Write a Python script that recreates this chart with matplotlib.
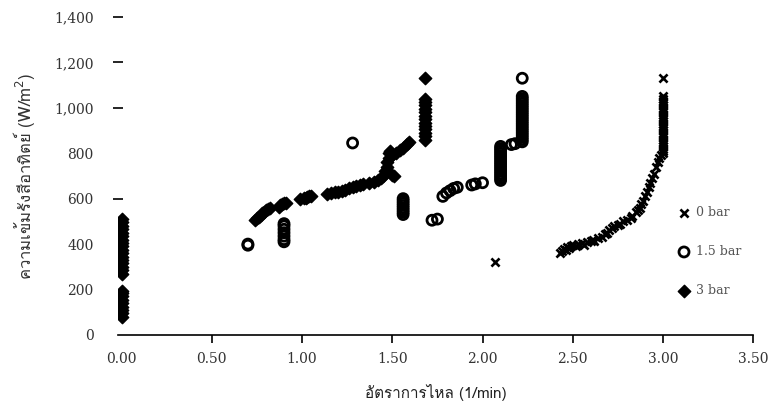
import numpy as np
import matplotlib.pyplot as plt
from matplotlib import font_manager
from matplotlib.ft2font import FT2Font
from matplotlib.ticker import FuncFormatter


def thai_font():
    # find an installed font that has Thai glyphs
    for f in font_manager.fontManager.ttflist:
        try:
            if 0x0E01 in FT2Font(f.fname).get_charmap():
                return f.name
        except Exception:
            pass
    return 'DejaVu Sans'


# 0 bar (x markers)
bar0_x = [2.07,
          2.43, 2.44, 2.45, 2.46, 2.47, 2.48, 2.49, 2.50, 2.52, 2.53, 2.55, 2.56, 2.58, 2.60,
          2.61, 2.62, 2.64, 2.66, 2.68, 2.69, 2.70, 2.72, 2.73, 2.75, 2.76, 2.78, 2.80, 2.82,
          2.83, 2.85, 2.86, 2.87, 2.88, 2.89, 2.90, 2.91, 2.92, 2.93, 2.94, 2.95, 2.96, 2.97,
          2.98, 2.99,
          3.00, 3.00, 3.00, 3.00, 3.00, 3.00, 3.00, 3.00, 3.00, 3.00, 3.00, 3.00, 3.00, 3.00,
          3.00, 3.00, 3.00, 3.00, 3.00, 3.00, 3.00, 3.00, 3.00, 3.00, 3.00, 3.00, 3.00]
bar0_y = [320,
          360, 370, 378, 375, 385, 382, 390, 395, 392, 400, 405, 398, 410, 415,
          420, 412, 425, 430, 445, 450, 460, 470, 478, 485, 490, 500, 508, 515,
          525, 540, 550, 560, 575, 590, 610, 630, 650, 670, 690, 710, 740, 760,
          780, 790,
          800, 810, 820, 830, 840, 850, 860, 870, 880, 890, 900, 910, 920, 930,
          940, 950, 960, 970, 980, 990, 1000, 1010, 1020, 1030, 1040, 1050, 1130]

# 1.5 bar (open circles)
bar15_x = [0.70, 0.70,
           0.90, 0.90, 0.90, 0.90, 0.90, 0.90, 0.90,
           1.28,
           1.56, 1.56, 1.56, 1.56, 1.56, 1.56, 1.56, 1.56,
           1.72, 1.75,
           1.78, 1.80, 1.82, 1.84, 1.86, 1.94, 1.96, 2.00,
           2.10, 2.10, 2.10, 2.10, 2.10, 2.10, 2.10, 2.10, 2.10, 2.10, 2.10, 2.10, 2.10, 2.10,
           2.10, 2.10,
           2.16, 2.18,
           2.22, 2.22, 2.22, 2.22, 2.22, 2.22, 2.22, 2.22, 2.22, 2.22, 2.22, 2.22, 2.22, 2.22,
           2.22, 2.22, 2.22, 2.22, 2.22, 2.22, 2.22, 2.22]
bar15_y = [395, 400,
           410, 420, 435, 450, 465, 480, 490,
           845,
           530, 540, 550, 560, 570, 580, 590, 600,
           505, 510,
           610, 625, 635, 645, 650, 660, 665, 670,
           680, 690, 700, 710, 720, 730, 740, 750, 760, 770, 780, 790, 800, 810,
           820, 830,
           838, 842,
           850, 860, 870, 880, 890, 900, 910, 920, 930, 940, 950, 960, 970, 980,
           990, 1000, 1010, 1020, 1030, 1040, 1050, 1130]

# 3 bar (filled diamonds)
bar3_x = [0.00] * 26 + [
          0.74, 0.75, 0.76, 0.77, 0.78, 0.79, 0.80, 0.81, 0.82,
          0.87, 0.88, 0.89, 0.90, 0.91,
          0.99, 1.01, 1.02, 1.03, 1.04, 1.05,
          1.14, 1.16, 1.18, 1.20, 1.22, 1.24, 1.26, 1.28, 1.30, 1.32, 1.34, 1.37, 1.40, 1.42,
          1.44, 1.45, 1.46, 1.47, 1.47, 1.48, 1.48, 1.49, 1.50, 1.51, 1.50, 1.52, 1.54, 1.56,
          1.58, 1.59,
          1.68, 1.68, 1.68, 1.68, 1.68, 1.68, 1.68, 1.68, 1.68, 1.68, 1.68, 1.68, 1.68, 1.68]
bar3_y = [80, 95, 110, 125, 140, 155, 170, 185, 195, 270, 285, 300, 315, 330, 345, 360,
          375, 390, 405, 420, 435, 450, 465, 480, 495, 510,
          505, 515, 520, 530, 535, 540, 548, 555, 560,
          565, 572, 578, 582, 580,
          598, 602, 605, 608, 610, 612,
          622, 626, 630, 628, 635, 640, 645, 650, 655, 660, 665, 668, 675, 680,
          690, 700, 720, 740, 760, 780, 800, 810, 705, 700, 790, 800, 815, 825,
          840, 848,
          860, 875, 890, 905, 920, 935, 950, 965, 980, 995, 1010, 1025, 1040, 1130]

x_ticks = [0.0, 0.5, 1.0, 1.5, 2.0, 2.5, 3.0, 3.5]
y_ticks = [0, 200, 400, 600, 800, 1000, 1200, 1400]

thai = thai_font()
serif = ['DejaVu Serif']

fig = plt.figure(figsize=(7.71, 4.12), dpi=100)
ax = fig.add_axes([0.153, 0.187, 0.824, 0.772])

ax.scatter(bar0_x, bar0_y, marker='x', s=34, color='black', linewidths=1.9, label='0 bar')
ax.scatter(bar15_x, bar15_y, marker='o', s=52, facecolors='none', edgecolors='black',
           linewidths=2.0, label='1.5 bar')
ax.scatter(bar3_x, bar3_y, marker='D', s=40, color='black', label='3 bar')

ax.set_xlim(-0.02, 3.5)
ax.set_ylim(0, 1400)
ax.set_xticks(x_ticks)
ax.set_yticks(y_ticks)
ax.xaxis.set_major_formatter(FuncFormatter(lambda v, p: '%.2f' % v))
ax.yaxis.set_major_formatter(FuncFormatter(lambda v, p: '{:,.0f}'.format(v)))

for s in ['top', 'right', 'left']:
    ax.spines[s].set_visible(False)
ax.spines['bottom'].set_linewidth(1.2)

ax.tick_params(axis='x', direction='out', length=6, width=1.2, pad=6, labelsize=10,
               labelcolor='#333333')
ax.tick_params(axis='y', direction='inout', length=7, width=1.2, pad=14, labelsize=10,
               labelcolor='#333333')
ax.xaxis.get_major_ticks()[0].tick1line.set_visible(False)
for i in [0, 1, 2, 4]:
    ax.yaxis.get_major_ticks()[i].tick1line.set_visible(False)
for lbl in ax.get_xticklabels() + ax.get_yticklabels():
    lbl.set_family(serif)

ax.set_xlabel('อัตราการไหล (1/min)', family=[thai, 'DejaVu Sans'], fontsize=11,
              color='#222222', labelpad=13)
ax.set_ylabel('ความเข้มรังสีอาทิตย์ (W/m$^2$)', family=[thai, 'DejaVu Sans'], fontsize=12,
              color='#333333', labelpad=12)

leg = ax.legend(loc='upper left', bbox_to_anchor=(679 / 771, 1 - 206 / 412),
                bbox_transform=fig.transFigure, frameon=False, handlelength=0.8,
                handletextpad=0.6, labelspacing=2.1, borderpad=0, borderaxespad=0,
                prop={'family': serif, 'size': 9})
for t in leg.get_texts():
    t.set_color('#555555')

fig.savefig('out.png', dpi=100)
